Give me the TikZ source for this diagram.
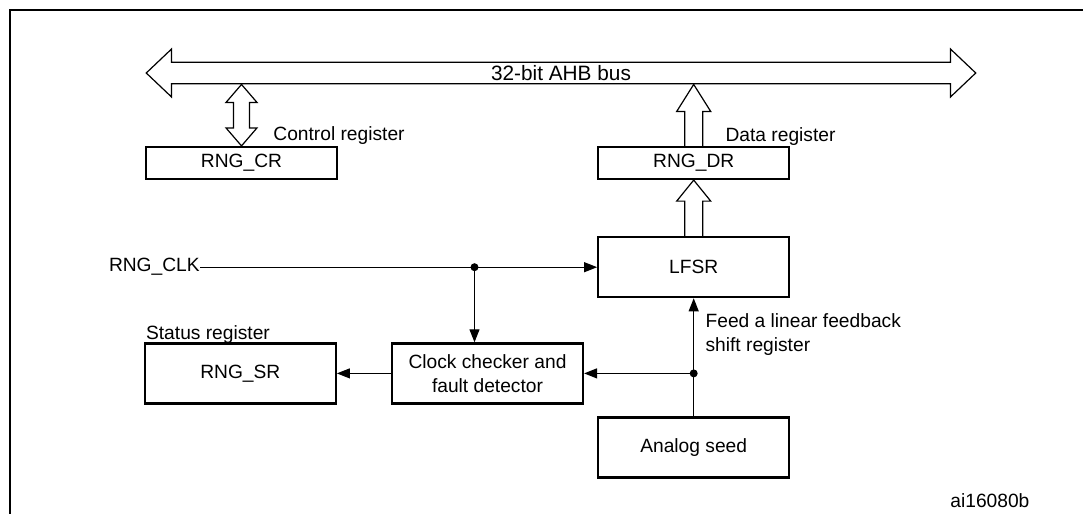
\documentclass[tikz,border=0pt]{standalone}
\usepackage{fontspec}
\setmainfont{Liberation Sans}
\usetikzlibrary{shapes.arrows,arrows.meta,positioning,calc}

% hollow block arrow, #2 tail and #3 tip (pointing up)
\newcommand{\hollowup}[3][11pt]{%
  \draw[fat] let \p1=(#2), \p2=(#3) in
    (\x1-4.5pt,\y1) -- (\x1-4.5pt,\y2-#1) -- (\x1-8.5pt,\y2-#1) -- (\x1,\y2)
    -- (\x1+8.5pt,\y2-#1) -- (\x1+4.5pt,\y2-#1) -- (\x1+4.5pt,\y1);}
% hollow block arrow with two heads, #1 bottom tip and #2 top tip
\newcommand{\hollowboth}[2]{%
  \draw[fat] let \p1=(#1), \p2=(#2) in
    (\x1,\y1) -- (\x1-7.75pt,\y1+9pt) -- (\x1-4pt,\y1+9pt) -- (\x1-4pt,\y2-9pt)
    -- (\x1-7.75pt,\y2-9pt) -- (\x1,\y2) -- (\x1+7.75pt,\y2-9pt) -- (\x1+4pt,\y2-9pt)
    -- (\x1+4pt,\y1+9pt) -- (\x1+7.75pt,\y1+9pt) -- cycle;}

\begin{document}
\begin{tikzpicture}[
  x=0.5pt,y=-0.5pt,
  node distance=28pt and 27pt,
  every node/.style={font=\fontsize{9.6}{12}\selectfont},
  box/.style={rectangle,draw,line width=1.1pt,minimum width=95.5pt,minimum height=30pt,inner sep=2pt,align=center},
  regbox/.style={box,minimum height=16pt},
  lbl/.style={inner sep=0pt},
  bus/.style={double arrow,draw,line width=0.6pt,minimum height=414.75pt,minimum width=24pt,double arrow head extend=5pt,double arrow tip angle=87,inner sep=0pt,font=\fontsize{10.4}{12}\selectfont},
  fat/.style={line width=0.6pt,line join=miter},
  arrow/.style={-{Triangle[length=6.5pt,width=5pt]},line width=0.55pt},
  frame/.style={line width=1.2pt}
]
\useasboundingbox (0,0) rectangle (1083,514);
\draw[frame] (10,514) -- (10,10) -- (1083,10);

\node[bus] (bus) at (561,73) {32-bit AHB bus};
\node[regbox] (cr) at (241.5,163) {RNG\_CR};
\node[regbox,right=129.5pt of cr] (dr) {RNG\_DR};
\node[box,below=of dr] (lfsr) {LFSR};
\node[box,below=59pt of lfsr] (seed) {Analog seed};
\node[box,below left=22pt and 6.5pt of lfsr] (ccd) {Clock checker and\\fault detector};
\node[box,left=of ccd] (sr) {RNG\_SR};

\node[lbl,anchor=base west] (crlbl) at ([shift={(15.75pt,2.5pt)}]cr.north) {Control register};
\node[lbl,anchor=base west] (drlbl) at ([shift={(15.75pt,2pt)}]dr.north) {Data register};
\node[lbl,anchor=base west] (srlbl) at ([shift={(1pt,1.5pt)}]sr.north west) {Status register};
\node[lbl,anchor=north west,align=left] (feed) at ([shift={(5.75pt,-7.25pt)}]lfsr.south) {Feed a linear feedback\\shift register};
\node[lbl,left=198.5pt of lfsr.west] (clk) {RNG\_CLK};
\node[lbl,anchor=base west] (ailbl) at (950,507) {ai16080b};

\hollowboth{cr.north}{cr.north |- bus.south}
\hollowup[13.5pt]{dr.north}{dr.north |- bus.south}
\hollowup[10.5pt]{lfsr.north}{dr.south}

\coordinate (clkjoin) at ([xshift=-6.5pt]ccd.north |- lfsr.west);
\coordinate (seedjoin) at (seed.north |- ccd.east);
\draw[arrow] (clk.east) -- (lfsr.west);
\draw[arrow] (clkjoin) -- (clkjoin |- ccd.north);
\draw[arrow] (seed.north) -- (lfsr.south);
\draw[arrow] (seedjoin) -- (ccd.east);
\draw[arrow] (ccd.west) -- (sr.east);
\fill (clkjoin) circle[radius=2pt];
\fill (seedjoin) circle[radius=2pt];
\end{tikzpicture}
\end{document}
